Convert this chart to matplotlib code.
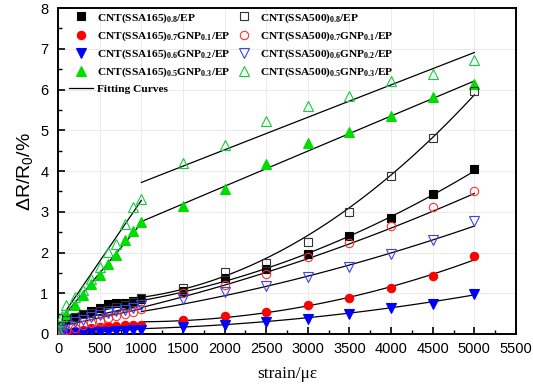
import numpy as np
import matplotlib; matplotlib.use('Agg'); import matplotlib.pyplot as plt
from matplotlib.ticker import MultipleLocator

plt.rcParams['font.family'] = 'Liberation Sans'
plt.rcParams['mathtext.default'] = 'regular'

# strain points (micro-strain)
x_lo = [0, 50, 100, 200, 300, 400, 500, 600, 700, 800, 900, 1000]
x_hi = [1500, 2000, 2500, 3000, 3500, 4000, 4500, 5000]
strain = x_lo + x_hi

# dR/R0 (%) per sample
s165_08 = [0.02, 0.2, 0.38, 0.42, 0.5, 0.57, 0.63, 0.73, 0.75, 0.77, 0.81, 0.85,
           1.05, 1.37, 1.6, 1.97, 2.4, 2.84, 3.44, 4.04]
s165_07 = [0.0, 0.02, 0.05, 0.08, 0.1, 0.14, 0.17, 0.19, 0.2, 0.21, 0.22, 0.22,
           0.34, 0.43, 0.55, 0.71, 0.88, 1.12, 1.43, 1.92]
s165_06 = [0.0, 0.0, 0.01, 0.02, 0.03, 0.04, 0.05, 0.06, 0.07, 0.08, 0.09, 0.1,
           0.17, 0.22, 0.3, 0.38, 0.49, 0.63, 0.74, 0.97]
s165_05 = [0.05, 0.25, 0.5, 0.7, 0.95, 1.22, 1.46, 1.73, 1.93, 2.31, 2.53, 2.74,
           3.15, 3.57, 4.17, 4.68, 4.95, 5.35, 5.82, 6.13]
s500_08 = [0.05, 0.2, 0.35, 0.42, 0.48, 0.52, 0.56, 0.6, 0.66, 0.72, 0.78, 0.88,
           1.12, 1.51, 1.75, 2.27, 3.0, 3.88, 4.8, 5.97]
s500_07 = [0.0, 0.05, 0.1, 0.15, 0.22, 0.28, 0.33, 0.4, 0.44, 0.5, 0.55, 0.62,
           1.0, 1.2, 1.47, 1.9, 2.24, 2.64, 3.12, 3.52]
s500_06 = [0.02, 0.1, 0.2, 0.3, 0.35, 0.42, 0.47, 0.52, 0.56, 0.6, 0.65, 0.72,
           0.85, 1.04, 1.19, 1.41, 1.65, 1.96, 2.31, 2.77]
s500_05 = [0.1, 0.45, 0.72, 0.9, 1.08, 1.35, 1.64, 2.02, 2.22, 2.7, 3.11, 3.31,
           4.19, 4.65, 5.23, 5.6, 5.84, 6.21, 6.38, 6.72]

# fitting curves: linear below 1000, quadratic above
fit_lo_x = [100, 1000]
fit_hi_x = [1000, 3000, 5000]
fit_lo = {'s165_08': [0.45, 0.82], 's165_07': [0.05, 0.2], 's165_06': [0.0, 0.12],
          's165_05': [0.52, 2.72], 's500_08': [0.4, 0.78], 's500_07': [0.22, 0.62],
          's500_06': [0.3, 0.7], 's500_05': [0.59, 3.28]}
fit_hi = {'s165_08': [0.82, 1.98, 4.0], 's165_07': [0.3, 0.69, 1.82], 's165_06': [0.13, 0.4, 0.96],
          's165_05': [2.76, 4.49, 6.21], 's500_08': [0.9, 2.42, 5.87], 's500_07': [0.65, 1.85, 3.45],
          's500_06': [0.55, 1.42, 2.65], 's500_05': [3.72, 5.32, 6.91]}

labels = {
    's165_08': r'CNT(SSA165)$_{0.8}$/EP',
    's165_07': r'CNT(SSA165)$_{0.7}$GNP$_{0.1}$/EP',
    's165_06': r'CNT(SSA165)$_{0.6}$GNP$_{0.2}$/EP',
    's165_05': r'CNT(SSA165)$_{0.5}$GNP$_{0.3}$/EP',
    's500_08': r'CNT(SSA500)$_{0.8}$/EP',
    's500_07': r'CNT(SSA500)$_{0.7}$GNP$_{0.1}$/EP',
    's500_06': r'CNT(SSA500)$_{0.6}$GNP$_{0.2}$/EP',
    's500_05': r'CNT(SSA500)$_{0.5}$GNP$_{0.3}$/EP',
}
data = {'s165_08': s165_08, 's165_07': s165_07, 's165_06': s165_06, 's165_05': s165_05,
        's500_08': s500_08, 's500_07': s500_07, 's500_06': s500_06, 's500_05': s500_05}
style = {  # marker, color, filled
    's165_08': ('s', 'black', True), 's165_07': ('o', '#ff0000', True),
    's165_06': ('v', '#0000ff', True), 's165_05': ('^', '#00dd00', True),
    's500_08': ('s', '#333333', False), 's500_07': ('o', '#ff3030', False),
    's500_06': ('v', '#4040ee', False), 's500_05': ('^', '#10cc40', False),
}

fig = plt.figure(figsize=(5.33, 3.87), dpi=100)
ax = fig.add_axes([0.109, 0.137, 0.859, 0.842])

for k in data:
    xl = np.linspace(fit_lo_x[0], fit_lo_x[1], 20)
    ax.plot(xl, np.interp(xl, fit_lo_x, fit_lo[k]), color='black', lw=0.9, zorder=3)
    c = np.polyfit(fit_hi_x, fit_hi[k], 2)
    xh = np.linspace(1000, 5000, 80)
    ax.plot(xh, np.polyval(c, xh), color='black', lw=0.9, zorder=3)

handles = {}
for k, y in data.items():
    m, col, filled = style[k]
    ms = 6 if m in 'so' else 6.5
    h, = ax.plot(strain, y, ls='none', marker=m, ms=ms,
                 mfc=col if filled else 'none', mec=col, mew=0.8, zorder=4)
    handles[k] = h

fit_handle, = ax.plot([], [], color='black', lw=0.9)
order = ['s165_08', 's165_07', 's165_06', 's165_05']
hs = [handles[k] for k in order] + [fit_handle] + [handles[k.replace('165', '500')] for k in order]
ls = [labels[k] for k in order] + ['Fitting Curves'] + [labels[k.replace('165', '500')] for k in order]
ax.legend(hs, ls, loc='upper left', bbox_to_anchor=(0.013, 1.005), ncol=2, frameon=False,
          numpoints=1, handlelength=2.1, handletextpad=0.4, labelspacing=0.42,
          columnspacing=0.1, borderaxespad=0.0,
          prop={'family': 'Liberation Serif', 'weight': 'bold', 'size': 8.2})

ax.set_xlim(0, 5500)
ax.set_ylim(0, 8)
ax.xaxis.set_major_locator(MultipleLocator(500))
ax.xaxis.set_minor_locator(MultipleLocator(250))
ax.yaxis.set_major_locator(MultipleLocator(1))
ax.yaxis.set_minor_locator(MultipleLocator(0.5))
ax.tick_params(which='both', direction='in', labelsize=10.5)
ax.tick_params(which='major', length=5, width=1.2)
ax.tick_params(which='minor', length=3, width=1.0)
ax.tick_params(axis='y', pad=7)
ax.tick_params(axis='x', pad=6)
ax.grid(True, which='major', color='#e8e8e8', lw=0.6)
ax.set_axisbelow(True)
for s in ax.spines.values():
    s.set_linewidth(1.4)

ax.set_xlabel('strain/με', family='Liberation Serif', fontsize=12.5, labelpad=7)
ax.set_ylabel(r'ΔR/R$_0$/%', fontsize=14, labelpad=4)

fig.savefig('out.png', dpi=100)
